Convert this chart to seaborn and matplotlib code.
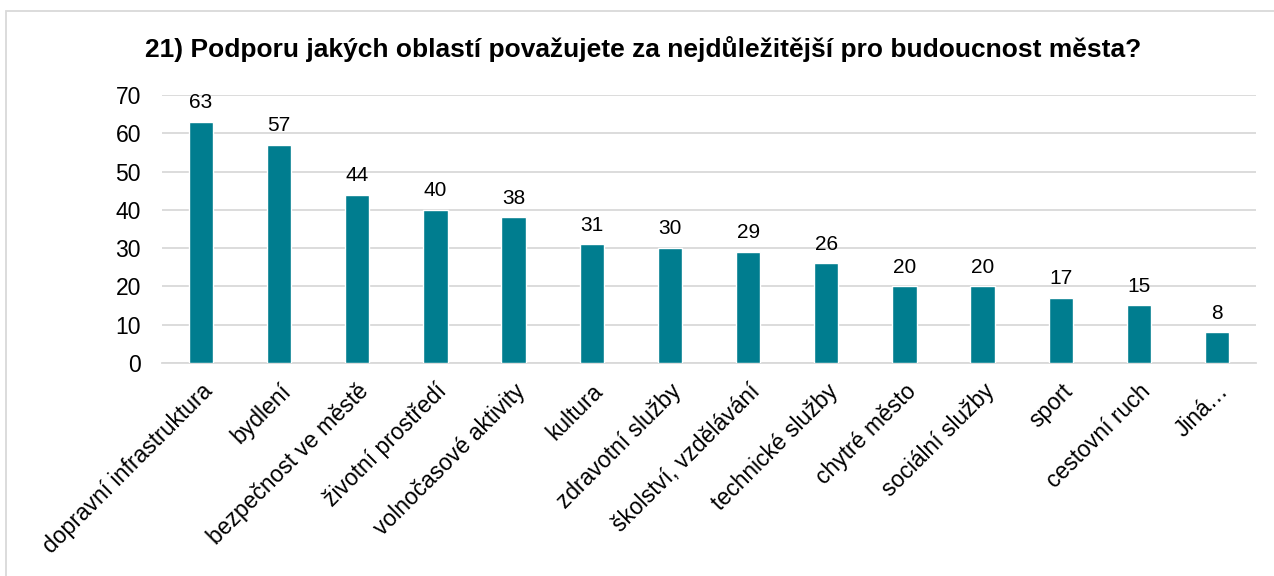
import matplotlib
matplotlib.use("Agg")
import matplotlib.pyplot as plt
import seaborn as sns
import pandas as pd
from matplotlib.patches import Rectangle

categories = [
    "dopravní infrastruktura", "bydlení", "bezpečnost ve městě", "životní prostředí",
    "volnočasové aktivity", "kultura", "zdravotní služby", "školství, vzdělávání",
    "technické služby", "chytré město", "sociální služby", "sport",
    "cestovní ruch", "Jiná…",
]
values = [63, 57, 44, 40, 38, 31, 30, 29, 26, 20, 20, 17, 15, 8]
y_ticks = [0, 10, 20, 30, 40, 50, 60, 70]
title = "21) Podporu jakých oblastí považujete za nejdůležitější pro budoucnost města?"

sns.set_theme(style="white")
plt.rcParams["font.family"] = ["Liberation Sans", "DejaVu Sans"]
plt.rcParams["text.color"] = "black"

df = pd.DataFrame({"oblast": categories, "pocet": values})

fig = plt.figure(figsize=(12.74, 5.76), dpi=100)
fig.patch.set_facecolor("white")
ax = fig.add_axes([0.127, 0.370, 0.859, 0.465])

sns.barplot(data=df, x="oblast", y="pocet", color="#007D8F", saturation=1,
            width=0.31, ax=ax, zorder=3)

ax.set_ylim(0, 70)
ax.set_yticks(y_ticks)
ax.set_xlim(-0.5, len(categories) - 0.5)
ax.yaxis.grid(True, color="#D9D9D9", linewidth=1.3, zorder=0)
ax.xaxis.grid(False)
for side in ["top", "right", "left"]:
    ax.spines[side].set_visible(False)
ax.spines["bottom"].set_color("#D9D9D9")
ax.spines["bottom"].set_linewidth(1.3)
ax.set_xlabel("")
ax.set_ylabel("")
ax.tick_params(axis="both", length=0, labelsize=16.5, colors="black")
ax.tick_params(axis="y", pad=15)
ax.tick_params(axis="x", pad=12)
ax.set_xticks(range(len(categories)))
ax.set_xticklabels(categories, rotation=45, ha="right", rotation_mode="anchor")

for container in ax.containers:
    ax.bar_label(container, labels=[str(v) for v in values], padding=7,
                 fontsize=15, color="black")

fig.text(0.505, 0.915, title, ha="center", va="center", fontsize=19,
         fontweight="bold", color="black")

# outer frame of the chart area
fig.patches.append(Rectangle((6 / 1274, -0.01), 1.0, 1 - 11 / 576 + 0.01,
                             transform=fig.transFigure, fill=False,
                             edgecolor="#D9D9D9", linewidth=1.3))

fig.savefig("out.png", dpi=100)
